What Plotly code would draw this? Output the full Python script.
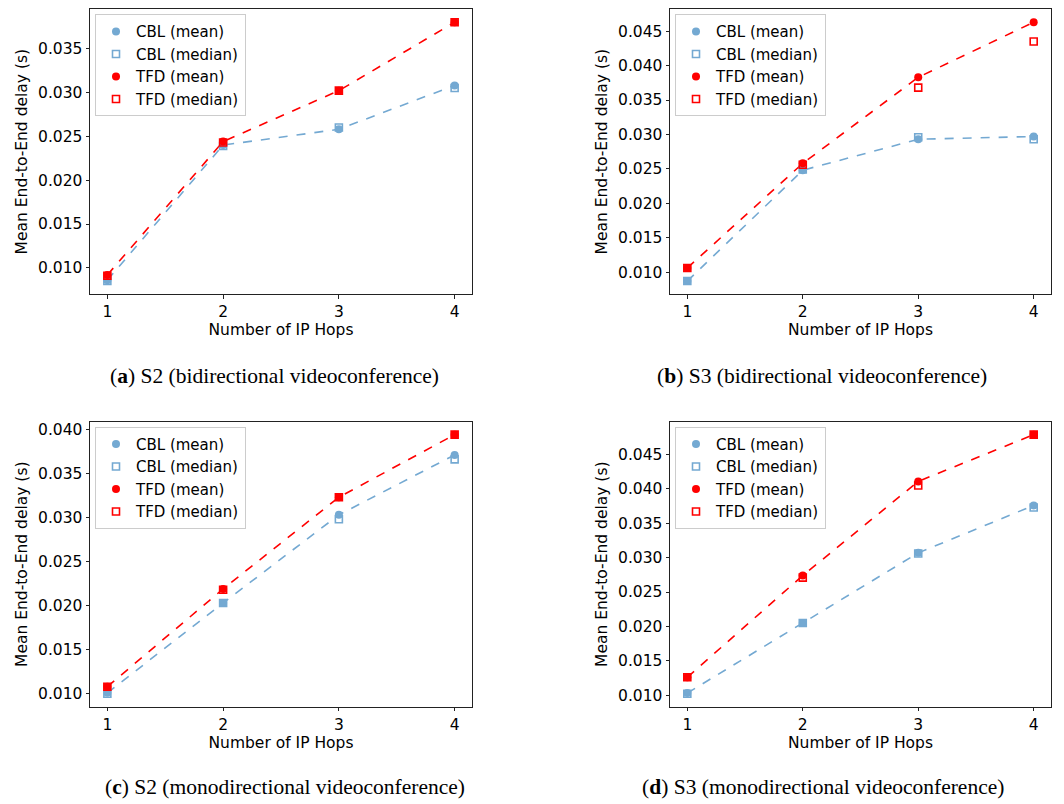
import plotly.graph_objects as go

hops = [1, 2, 3, 4]

# (a) S2 bidirectional
a_cbl_mean = [0.0086, 0.0240, 0.0258, 0.0308]
a_cbl_median = [0.0085, 0.0239, 0.0260, 0.0305]
a_tfd_mean = [0.0092, 0.0244, 0.0302, 0.0380]
a_tfd_median = [0.0091, 0.0243, 0.0302, 0.0380]

# (b) S3 bidirectional
b_cbl_mean = [0.0087, 0.0248, 0.0293, 0.0297]
b_cbl_median = [0.0087, 0.0249, 0.0296, 0.0293]
b_tfd_mean = [0.0106, 0.0258, 0.0383, 0.0463]
b_tfd_median = [0.0106, 0.0256, 0.0368, 0.0435]

# (c) S2 monodirectional
c_cbl_mean = [0.0101, 0.0203, 0.0303, 0.0371]
c_cbl_median = [0.0100, 0.0203, 0.0298, 0.0366]
c_tfd_mean = [0.0108, 0.0219, 0.0323, 0.0394]
c_tfd_median = [0.0108, 0.0218, 0.0323, 0.0394]

# (d) S3 monodirectional
d_cbl_mean = [0.0103, 0.0205, 0.0307, 0.0376]
d_cbl_median = [0.0102, 0.0205, 0.0306, 0.0373]
d_tfd_mean = [0.0126, 0.0274, 0.0411, 0.0479]
d_tfd_median = [0.0126, 0.0271, 0.0405, 0.0479]

captions = [
    "(<b>a</b>) S2 (bidirectional videoconference)",
    "(<b>b</b>) S3 (bidirectional videoconference)",
    "(<b>c</b>) S2 (monodirectional videoconference)",
    "(<b>d</b>) S3 (monodirectional videoconference)",
]
series_names = ["CBL (mean)", "CBL (median)", "TFD (mean)", "TFD (median)"]
x_title = "Number of IP Hops"
y_title = "Mean End-to-End delay (s)"

BLUE = "#74a9d2"
RED = "#ff0000"
FONT = "DejaVu Sans"
FS = 15.5
LFS = 15
AX = "#222222"

panels = [
    (a_cbl_mean, a_cbl_median, a_tfd_mean, a_tfd_median),
    (b_cbl_mean, b_cbl_median, b_tfd_mean, b_tfd_median),
    (c_cbl_mean, c_cbl_median, c_tfd_mean, c_tfd_median),
    (d_cbl_mean, d_cbl_median, d_tfd_mean, d_tfd_median),
]

OFF = 8  # page body margin
W, H = 1064 - OFF, 804 - OFF
# target pixel boxes of plot areas in the page (left, right, top, bottom)
boxes = [
    (90, 472, 9.3, 294),
    (670, 1051, 9.3, 294),
    (90, 472, 421.7, 706.7),
    (670, 1051, 421.7, 706.7),
]
cap_pos = [(274, 376), (822, 376), (285, 787), (823, 787)]

fig = go.Figure()
layout = dict(
    width=W, height=H, autosize=False,
    margin=dict(l=0, r=0, t=0, b=0),
    paper_bgcolor="white", plot_bgcolor="white",
    font=dict(family=FONT, size=FS, color="black"),
    annotations=[],
)

for i, (cm, cmed, tm, tmed) in enumerate(panels):
    n = i + 1
    xa = "x" if n == 1 else f"x{n}"
    ya = "y" if n == 1 else f"y{n}"
    lg = "legend" if n == 1 else f"legend{n}"
    common = dict(xaxis=xa, yaxis=ya)
    fig.add_trace(go.Scatter(x=hops, y=cm, mode="lines", showlegend=False,
                             line=dict(color=BLUE, width=1.6, dash="dash"), hoverinfo="skip", **common))
    fig.add_trace(go.Scatter(x=hops, y=tm, mode="lines", showlegend=False,
                             line=dict(color=RED, width=1.6, dash="dash"), hoverinfo="skip", **common))
    fig.add_trace(go.Scatter(x=hops, y=cm, mode="markers", name=series_names[0], legend=lg,
                             marker=dict(symbol="circle", size=8, color=BLUE), **common))
    fig.add_trace(go.Scatter(x=hops, y=cmed, mode="markers", name=series_names[1], legend=lg,
                             marker=dict(symbol="square-open", size=7, color=BLUE, line=dict(width=1.6, color=BLUE)), **common))
    fig.add_trace(go.Scatter(x=hops, y=tm, mode="markers", name=series_names[2], legend=lg,
                             marker=dict(symbol="circle", size=8, color=RED), **common))
    fig.add_trace(go.Scatter(x=hops, y=tmed, mode="markers", name=series_names[3], legend=lg,
                             marker=dict(symbol="square-open", size=7, color=RED, line=dict(width=1.6, color=RED)), **common))

    allv = cm + cmed + tm + tmed
    lo, hi = min(allv), max(allv)
    pad = 0.05 * (hi - lo)
    l, r, t, b = [v - OFF for v in boxes[i]]
    xdom = [l / W, r / W]
    ydom = [1 - b / H, 1 - t / H]
    axkey_x = "xaxis" if n == 1 else f"xaxis{n}"
    axkey_y = "yaxis" if n == 1 else f"yaxis{n}"
    layout[axkey_x] = dict(
        domain=xdom, anchor=ya, range=[0.85, 4.15],
        tickmode="array", tickvals=hops, ticktext=[str(h) for h in hops],
        showline=True, linecolor=AX, linewidth=1, mirror=True,
        ticks="outside", ticklen=3.5, tickcolor=AX, showgrid=False, zeroline=False,
        title=dict(text=x_title, standoff=2, font=dict(size=FS)),
        tickfont=dict(size=FS),
    )
    layout[axkey_y] = dict(
        domain=ydom, anchor=xa, range=[lo - pad, hi + pad],
        tick0=0, dtick=0.005, tickformat=".3f",
        showline=True, linecolor=AX, linewidth=1, mirror=True,
        ticks="outside", ticklen=3.5, tickcolor=AX, showgrid=False, zeroline=False,
        title=dict(text=y_title, standoff=6, font=dict(size=FS)),
        tickfont=dict(size=FS),
    )
    layout[lg] = dict(
        x=(l + 5) / W, y=1 - (t + 5) / H, xanchor="left", yanchor="top",
        bgcolor="rgba(255,255,255,0.85)", bordercolor="#cccccc", borderwidth=1,
        font=dict(size=LFS, family=FONT), itemwidth=30, tracegroupgap=0,
    )
    cx, cy = cap_pos[i]
    layout["annotations"].append(dict(
        text=captions[i], x=(cx - OFF) / W, y=1 - (cy - OFF) / H, xref="paper", yref="paper",
        xanchor="center", yanchor="middle", showarrow=False,
        font=dict(family="Liberation Serif", size=21.5, color="black"),
    ))

fig.update_layout(**layout)
fig.write_html("out.html")
